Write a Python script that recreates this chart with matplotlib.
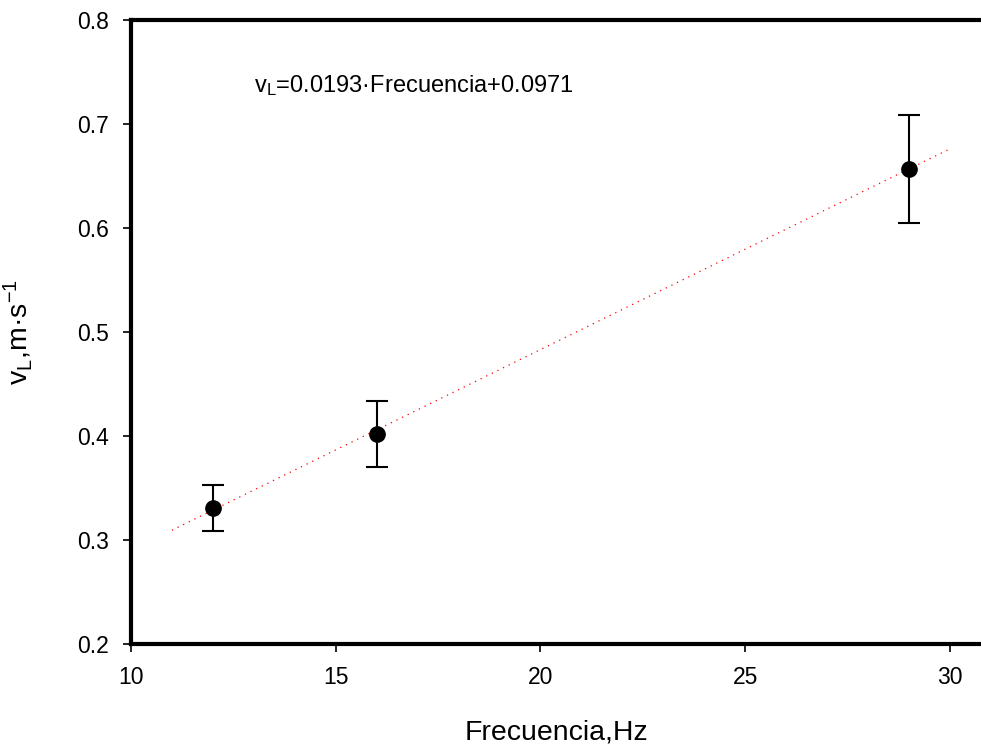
import matplotlib
matplotlib.use("Agg")
import matplotlib.pyplot as plt
import numpy as np

plt.rcParams['font.family'] = ['Liberation Sans', 'DejaVu Sans']
plt.rcParams['mathtext.fontset'] = 'custom'
plt.rcParams['mathtext.rm'] = 'Liberation Sans'
plt.rcParams['mathtext.it'] = 'Liberation Sans'
plt.rcParams['axes.unicode_minus'] = False

frecuencia = [12, 16, 29]
velocidad = [0.331, 0.402, 0.657]
error = [0.022, 0.032, 0.052]
slope = 0.0193
intercept = 0.0971
fit_range = [11, 30]

fig = plt.figure(figsize=(9.81, 7.47), dpi=100)
ax = fig.add_axes([0.1335, 0.1379, 0.8665, 0.8353])

xf = np.linspace(fit_range[0], fit_range[1], 100)
ax.plot(xf, slope * xf + intercept, color='red', linestyle=(0, (1, 4)), linewidth=0.9)

ax.errorbar(frecuencia, velocidad, yerr=error, fmt='o', color='black',
            markersize=11, capsize=8, elinewidth=1.5, capthick=1.5)

ax.set_xlim(10, 30.76)
ax.set_ylim(0.2, 0.8)
ax.set_xticks([10, 15, 20, 25, 30])
ax.set_yticks([0.2, 0.3, 0.4, 0.5, 0.6, 0.7, 0.8])
ax.set_yticklabels(['0.2', '0.3', '0.4', '0.5', '0.6', '0.7', '0.8'])
for s in ax.spines.values():
    s.set_linewidth(3)
ax.spines['right'].set_visible(False)
ax.tick_params(direction='out', length=6, width=1.2, labelsize=16.5, pad=10)

ax.set_xlabel('Frecuencia,Hz', fontsize=20.5, labelpad=22)
ax.set_ylabel('v$_\\mathregular{L}$,m·s$^\\mathregular{-1}$', fontsize=20.5, labelpad=30)

ax.text(13.0, 0.737, 'v$_\\mathregular{L}$=0.0193·Frecuencia+0.0971', fontsize=17,
        va='center', ha='left')

fig.savefig('out.png', dpi=100)
